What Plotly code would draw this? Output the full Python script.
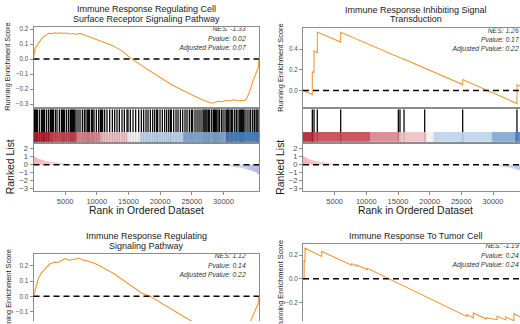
import plotly.graph_objects as go

W, H = 520, 324
FONT = "Liberation Sans, Arial, Helvetica, sans-serif"
ES_COLOR = "#EC9A3A"
BORDER = "#8C8C8C"
TICK_TXT = "#4D4D4D"
N_GENES = 35600

# ---- ranked gene list metric (shared by all gene sets) ----
rank_pos = [0, 150, 400, 760, 1300, 2080, 3000, 3920, 5000, 6820, 9000, 12000,
            16000, 20000, 24000, 27000, 28900, 30500, 31550, 32700, 33660,
            34500, 35100, 35600]
rank_val = [1.2, 1.05, 0.9, 0.74, 0.6, 0.45, 0.34, 0.25, 0.16, 0.08, 0.04, 0.015,
            0.0, -0.01, -0.03, -0.06, -0.1, -0.17, -0.25, -0.38, -0.55,
            -0.75, -0.95, -1.25]
rank_ticks = [5000, 10000, 15000, 20000, 25000, 30000]

# ---- gene set 1: cell surface receptor signaling ----
title1 = ["Immune Response Regulating Cell", "Surface Receptor Signaling Pathway"]
stats1 = ["NES: -1.33", "Pvalue: 0.02", "Adjusted Pvalue: 0.07"]
es1_rank = [0, 237, 474, 758, 1026, 1342, 1658, 2084, 2447, 2921, 3394, 3868, 4342,
            4815, 5289, 5763, 6236, 6710, 7026, 7341, 7815, 8604, 9394, 10183,
            10973, 11762, 12552, 13341, 14288, 15235, 15551, 16814, 18393, 19972,
            21550, 23129, 24708, 26287, 27392, 28181, 28655, 29128, 29760, 30391,
            31023, 31654, 32286, 32917, 33391, 33707, 34181, 34654, 34970, 35286,
            35491, 35600]
es1_score = [0.0, 0.07, 0.085, 0.105, 0.12, 0.14, 0.15, 0.163, 0.172, 0.17, 0.176,
             0.172, 0.176, 0.171, 0.174, 0.168, 0.171, 0.166, 0.17, 0.172, 0.165,
             0.152, 0.138, 0.125, 0.113, 0.104, 0.09, 0.07, 0.045, 0.01, 0.0,
             -0.035, -0.08, -0.125, -0.165, -0.2, -0.235, -0.265, -0.283, -0.295,
             -0.29, -0.282, -0.285, -0.275, -0.28, -0.272, -0.278, -0.275, -0.276,
             -0.26, -0.21, -0.145, -0.11, -0.075, -0.055, 0.0]
hits1 = [20, 132, 289, 447, 605, 921, 1237, 1447, 1605, 1763, 2079, 2395, 2658,
         2816, 2974, 3132, 3447, 3711, 4079, 4395, 4553, 4711, 4921, 5237, 5553,
         5816, 5974, 6132, 6289, 6500, 6711, 7026, 7342, 7711, 8026, 8289, 8553,
         8711, 8868, 9184, 9342, 9553, 9921, 10289, 10553, 10711, 10921, 11237,
         11605, 12026, 12447, 12816, 13184, 13553, 13974, 14342, 14763, 14921,
         15289, 15711, 16132, 16605, 17026, 17395, 17763, 18079, 18447, 18816,
         19132, 19447, 19605, 19974, 20342, 20711, 21026, 21342, 21605, 21763,
         22132, 22500, 22816, 23184, 23553, 23921, 24237, 24605, 24921, 25132,
         25500, 25816, 26132, 26447, 26763, 26921, 27079, 27237, 27395, 27605,
         27816, 28132, 28395, 28553, 28711, 28921, 29132, 29342, 29658, 29921,
         30237, 30500, 30658, 30816, 31026, 31237, 31447, 31763, 32026, 32289,
         32553, 32711, 32868, 33026, 33184, 33395, 33711, 34026, 34289, 34605,
         34868, 35132, 35289, 35447]
strip1_edges = [0, 2605, 6816, 10500, 14710, 16816, 23630, 30470, 35600]
strip1_colors = ["#B01F2E", "#C44652", "#D9838C", "#EEBFC4", "#F7F0F1",
                 "#BDD3EB", "#7FA6D4", "#4A80C0"]

# ---- gene set 2: inhibiting signal transduction ----
title2 = ["Immune Response Inhibiting Signal", "Transduction"]
stats2 = ["NES: 1.26", "Pvalue: 0.17", "Adjusted Pvalue: 0.22"]
es2_rank = [0, 1470, 1470, 1740, 1740, 2260, 2260, 5950, 5950, 15050, 15050,
            15310, 15310, 15950, 15950, 19210, 19210, 25210, 25210, 33780, 33780,
            35600]
es2_score = [0.0, -0.04, 0.18, 0.173, 0.38, 0.366, 0.565, 0.467, 0.562, 0.316,
             0.32, 0.313, 0.316, 0.299, 0.302, 0.214, 0.218, 0.056, 0.105,
             -0.127, 0.054, 0.005]
hits2 = [1470, 1740, 2260, 5950, 15050, 15310, 15950, 19210, 25210, 33780]
strip2_edges = [0, 1630, 10580, 15050, 19530, 20580, 29790, 33470, 35600]
strip2_colors = ["#B01F2E", "#C44652", "#D9838C", "#EEBFC4", "#F7F0F1",
                 "#BDD3EB", "#7FA6D4", "#4A80C0"]

# ---- gene set 3: regulating signaling pathway ----
title3 = ["Immune Response Regulating", "Signaling Pathway"]
stats3 = ["NES: 1.12", "Pvalue: 0.14", "Adjusted Pvalue: 0.22"]
es3_rank = [0, 237, 505, 790, 1295, 1660, 2085, 2605, 3000, 3395, 3870, 4185, 4580,
            4975, 5370, 5760, 6240, 6710, 7075, 7500, 7860, 8290, 8920, 9710,
            10500, 11290, 12080, 12870, 13660, 14710, 16025, 17130, 18390, 19970,
            22070, 24710, 26290, 27400, 28340, 29440, 30700, 31960, 33390, 34180,
            34700, 35240, 35450, 35600]
es3_score = [0.0, 0.04, 0.08, 0.12, 0.155, 0.17, 0.187, 0.213, 0.218, 0.224, 0.222,
             0.23, 0.24, 0.247, 0.24, 0.237, 0.243, 0.244, 0.252, 0.242, 0.237,
             0.234, 0.226, 0.215, 0.198, 0.18, 0.166, 0.145, 0.12, 0.09, 0.05,
             0.02, 0.0, -0.04, -0.092, -0.157, -0.19, -0.205, -0.218, -0.212,
             -0.21, -0.205, -0.2, -0.17, -0.125, -0.071, -0.05, 0.0]

# ---- gene set 4: response to tumor cell ----
title4 = ["Immune Response To Tumor Cell"]
stats4 = ["NES: -1.19", "Pvalue: 0.24", "Adjusted Pvalue: 0.24"]
es4_rank = [0, 180, 180, 320, 320, 2950, 2950, 7690, 7690, 8480, 8480, 10150, 10150,
            25840, 25840, 26890, 26890, 28900, 28900, 30640, 30640, 32000, 32000,
            33300, 33300, 34400]
es4_score = [0.0, -0.004, 0.15, 0.146, 0.258, 0.189, 0.231, 0.114, 0.128, 0.107,
             0.118, 0.075, 0.088, -0.32, -0.305, -0.332, -0.29, -0.342, -0.33,
             -0.347, -0.318, -0.349, -0.325, -0.355, -0.296, -0.325]

# ---------------- layout geometry (pixels) ----------------
COLS = {"L": (33.5, 259.0), "R": (303.0, 528.5)}
STAT_X = {"L": 33500, "R": 34050}


def x_axis(col, **kw):
    x0, x1 = COLS[col]
    vis1 = min(x1, W)
    d = dict(domain=[x0 / W, vis1 / W],
             range=[0, N_GENES * (vis1 - x0) / (x1 - x0)],
             showgrid=False, zeroline=False, showline=True, linecolor=BORDER,
             linewidth=1, mirror=True, ticks="", showticklabels=False,
             fixedrange=True)
    d.update(kw)
    return d


def y_axis(col, top, bottom, lo, hi, **kw):
    vis_bottom = min(bottom, H)
    vis_lo = hi - (hi - lo) * (vis_bottom - top) / (bottom - top)
    d = dict(domain=[1 - vis_bottom / H, 1 - top / H], range=[vis_lo, hi],
             showgrid=False, zeroline=False, showline=True, linecolor=BORDER,
             linewidth=1, mirror=(col == "L"), ticks="", showticklabels=False,
             fixedrange=True)
    d.update(kw)
    return d


es_ticks = dict(ticks="outside", ticklen=3, tickcolor=BORDER, tickwidth=1,
                showticklabels=True, tickformat=".1f",
                tickfont=dict(family=FONT, size=6.3, color=TICK_TXT))
rank_yticks = dict(ticks="outside", ticklen=3, tickcolor=BORDER, tickwidth=1,
                   showticklabels=True, tickvals=[-3, -2, -1, 0, 1, 2],
                   tickfont=dict(family=FONT, size=7.6, color=TICK_TXT))
rank_xticks = dict(ticks="outside", ticklen=3, tickcolor=BORDER, tickwidth=1,
                   showticklabels=True, tickvals=rank_ticks, tickformat="d",
                   tickfont=dict(family=FONT, size=7.5, color=TICK_TXT))

fig = go.Figure()
shapes, annotations = [], []

ES_TOP = {"TL": 25.7, "TR": 26.8}
BAR = (109.0, 142.0)
RANK = (144.0, 191.5, -3.23, 2.63)


def es_line(ax, ranks, scores):
    fig.add_trace(go.Scatter(x=ranks, y=scores, mode="lines",
                             line=dict(color=ES_COLOR, width=1.1),
                             xaxis="x" + ax, yaxis="y" + ax, hoverinfo="skip"))


def zero_dash(ax):
    shapes.append(dict(type="line", xref=f"x{ax} domain", yref=f"y{ax}",
                       x0=0, x1=1, y0=0, y1=0,
                       line=dict(color="black", width=1.5, dash="6px,4px")))


def stats_text(ax, col, texts, top, bottom, lo, hi):
    scale = (hi - lo) / (bottom - top)
    ys = [hi - off * scale for off in (2.5, 12.0, 21.5)]
    fig.add_trace(go.Scatter(x=[STAT_X[col]] * 3, y=ys, mode="text", text=texts,
                             textposition="middle left", cliponaxis=True,
                             textfont=dict(family=FONT, size=6.8, color="#333333",
                                           style="italic"),
                             xaxis="x" + ax, yaxis="y" + ax, hoverinfo="skip"))


def barcode(ax, hits, edges, colors):
    xs, ys = [], []
    for h in hits:
        xs += [h, h, None]
        ys += [0, 1, None]
    fig.add_trace(go.Scatter(x=xs, y=ys, mode="lines",
                             line=dict(color="black", width=1.25),
                             xaxis="x" + ax, yaxis="y" + ax, hoverinfo="skip"))
    for a, b, c in zip(edges[:-1], edges[1:], colors):
        shapes.append(dict(type="rect", xref="x" + ax, yref=f"y{ax} domain",
                           x0=a, x1=b, y0=0, y1=0.3, fillcolor=c, opacity=0.9,
                           line=dict(width=0), layer="above"))


def ranked(ax):
    fig.add_trace(go.Scatter(
        x=rank_pos, y=rank_val, mode="lines", fill="tozeroy",
        line=dict(width=0, color="rgba(0,0,0,0)"),
        fillgradient=dict(type="horizontal", start=0, stop=N_GENES,
                          colorscale=[[0, "#F2B6BA"], [0.15, "#F8D9DB"],
                                      [0.35, "#FFFFFF"], [0.72, "#FFFFFF"],
                                      [0.88, "#DCDFF1"], [1, "#B4BAE0"]]),
        xaxis="x" + ax, yaxis="y" + ax, hoverinfo="skip"))
    zero_dash(ax)


def text(px, py, s, size, angle=0, color="#1A1A1A"):
    annotations.append(dict(x=px / W, y=1 - py / H, xref="paper", yref="paper",
                            text=s, showarrow=False, textangle=angle,
                            xanchor="center", yanchor="middle",
                            font=dict(family=FONT, size=size, color=color)))


layout = {}

# ---- top-left: gene set 1 ----
tl = (ES_TOP["TL"], 106.5, -0.319, 0.2125)
layout["xaxis"] = x_axis("L", anchor="y")
layout["yaxis"] = y_axis("L", *tl, anchor="x",
                         tickvals=[-0.3, -0.2, -0.1, 0.0, 0.1, 0.2], **es_ticks)
layout["xaxis2"] = x_axis("L", anchor="y2")
layout["yaxis2"] = y_axis("L", BAR[0], BAR[1], 0, 1, anchor="x2")
layout["xaxis3"] = x_axis("L", anchor="y3", **rank_xticks)
layout["yaxis3"] = y_axis("L", *RANK, anchor="x3", **rank_yticks)
zero_dash("")
es_line("", es1_rank, es1_score)
stats_text("", "L", stats1, *tl)
barcode("2", hits1, strip1_edges, strip1_colors)
ranked("3")

# ---- top-right: gene set 2 ----
tr = (ES_TOP["TR"], 106.8, -0.162, 0.5996)
layout["xaxis4"] = x_axis("R", anchor="y4")
layout["yaxis4"] = y_axis("R", *tr, anchor="x4", tickvals=[0.0, 0.2, 0.4],
                          **es_ticks)
layout["xaxis5"] = x_axis("R", anchor="y5")
layout["yaxis5"] = y_axis("R", BAR[0], BAR[1], 0, 1, anchor="x5")
layout["xaxis6"] = x_axis("R", anchor="y6", **rank_xticks)
layout["yaxis6"] = y_axis("R", *RANK, anchor="x6", **rank_yticks)
zero_dash("4")
es_line("4", es2_rank, es2_score)
stats_text("4", "R", stats2, *tr)
barcode("5", hits2, strip2_edges, strip2_colors)
ranked("6")

# ---- bottom-left: gene set 3 ----
bl = (256.0, 336.5, -0.242, 0.277)
layout["xaxis7"] = x_axis("L", anchor="y7", side="top", mirror=False)
layout["yaxis7"] = y_axis("L", *bl, anchor="x7",
                          tickvals=[-0.2, -0.1, 0.0, 0.1, 0.2], **es_ticks)
zero_dash("7")
es_line("7", es3_rank, es3_score)
stats_text("7", "L", stats3, *bl)

# ---- bottom-right: gene set 4 ----
br = (246.0, 326.5, -0.379, 0.292)
layout["xaxis8"] = x_axis("R", anchor="y8", side="top", mirror=False)
layout["yaxis8"] = y_axis("R", *br, anchor="x8", tickvals=[-0.2, 0.0, 0.2],
                          **es_ticks)
zero_dash("8")
es_line("8", es4_rank, es4_score)
stats_text("8", "R", stats4, *br)

# ---- titles and axis labels ----
cl = sum(COLS["L"]) / 2
cr = sum(COLS["R"]) / 2
text(cl, 7.2, title1[0], 9)
text(cl, 16.8, title1[1], 9)
text(cr, 7.8, title2[0], 9)
text(cr, 17.6, title2[1], 9)
text(cl, 237.5, title3[0], 9)
text(cl, 248.0, title3[1], 9)
text(cr, 237.8, title4[0], 9)

for px, py in [(6.7, 66.1), (280.8, 66.9), (8.0, 296.0), (280.7, 287.0)]:
    text(px, py, "Running Enrichment Score", 7.4, angle=-90)
for px in (10.0, 280.5):
    text(px, 167.75, "Ranked List", 10.4, angle=-90)
for px in (cl, cr):
    text(px, 212.0, "Rank in Ordered Dataset", 10.4)

fig.update_layout(
    width=W, height=H, margin=dict(l=0, r=0, t=0, b=0),
    paper_bgcolor="white", plot_bgcolor="white", showlegend=False,
    shapes=shapes, annotations=annotations, **layout)

fig.write_html("out.html")
